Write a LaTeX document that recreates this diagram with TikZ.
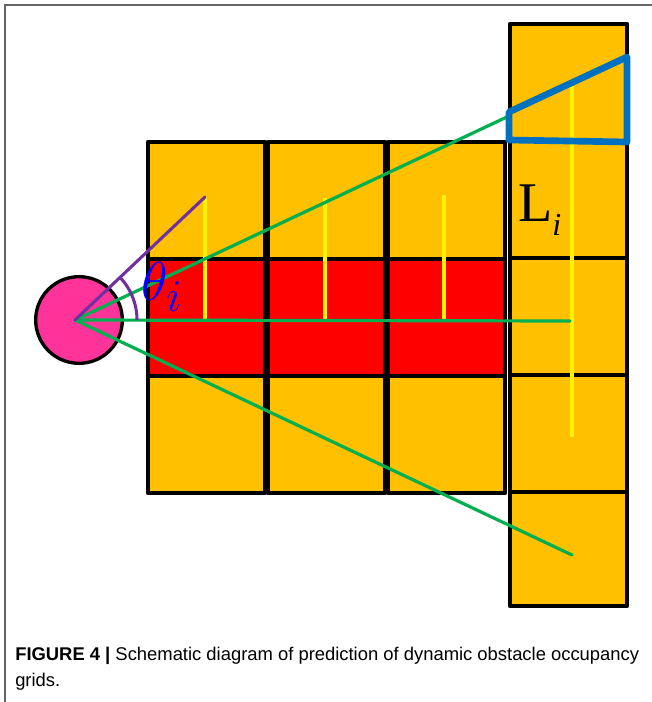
\documentclass[tikz,border=0pt]{standalone}
\usepackage{fontspec}
\newfontfamily\capfont{Liberation Sans}
\newfontfamily\labelfont{Liberation Serif}
\definecolor{cellorange}{HTML}{FFC000}
\definecolor{cellred}{HTML}{FF0000}
\definecolor{robotpink}{HTML}{FF3399}
\definecolor{raygreen}{HTML}{00B050}
\definecolor{anglepurple}{HTML}{7030A0}
\definecolor{boxblue}{HTML}{0070C0}
\definecolor{thetablue}{HTML}{0000FF}
\definecolor{framegray}{HTML}{666666}
\tikzset{
    cell/.style={draw=black, line width=3.2pt, line join=round},
    ray/.style={raygreen, line width=2.4pt, line cap=round},
    len/.style={yellow, line width=2.5pt},
    robot/.style={circle, fill=robotpink, draw=black, line width=2.5pt, minimum size=65pt, inner sep=0pt},
    caption/.style={anchor=base west, inner sep=0pt, font=\capfont\fontsize{13.8}{16}\selectfont}
}
\newcommand\bigmath[1]{\scalebox{1.65}{\fontsize{24.88}{27}\selectfont$#1$}}
\begin{document}
\begin{tikzpicture}[x=0.75pt,y=-0.75pt]
    \useasboundingbox (0,0) rectangle (652,702);
    \draw[framegray, line width=1pt] (652,5) -- (5,5) -- (5,702);
    % occupancy grid
    \foreach \c in {0,1,2} \foreach \r in {0,1,2}
    {
        \pgfmathparse{\r==1 ? "cellred" : "cellorange"}
        \edef\shade{\pgfmathresult}
        \path[cell, fill=\shade] (148+120*\c,142+117*\r) rectangle ++ (117,117);
    }
    \foreach \r in {0,...,4}
        \path[cell, fill=cellorange] (510,24+117*\r) rectangle ++ (117,\ifnum\r=4 114\else 117\fi);
    % robot and rays
    \node[robot] (robot) at (79,320) {};
    \coordinate (o) at (75,320);
    \coordinate (ptop) at (205,197);
    \coordinate (pup) at (509,116);
    \coordinate (pmid) at (570,321);
    \coordinate (plow) at (572,555);
    \foreach \x/\y in {205/197,325/198,444/195}
        \draw[len] (\x,\y) -- (\x,320);
    \draw[len] (572,82) -- (572,437);
    \draw[ray] (o) -- (pup);
    \draw[ray] (o) -- (pmid);
    \draw[ray] (o) -- (plow);
    \draw[anglepurple, line width=2.3pt, line cap=round] (o) -- (ptop);
    \draw[anglepurple, line width=2.3pt] plot[domain=0:43.4, samples=30] ({75+62*cos(\x)},{320-62*sin(\x)});
    % predicted cell
    \draw[boxblue, line width=5pt, line join=round] (509,112) -- (627,57) -- (627,142) -- (509,140) -- cycle;
    \node[thetablue, inner sep=0pt] (theta) at (162,287) {\bigmath{\theta_i}};
    \node[inner sep=0pt, anchor=base west, font=\labelfont] (len) at (518,222)
        {\fontsize{42}{44}\selectfont L\raisebox{-10pt}{\fontsize{24}{26}\selectfont\itshape i}};
    % caption
    \node[caption] (cap1) at (15,660) {\textbf{FIGURE 4 |} Schematic diagram of prediction of dynamic obstacle occupancy};
    \node[caption] (cap2) at (15,686) {grids.};
\end{tikzpicture}
\end{document}
